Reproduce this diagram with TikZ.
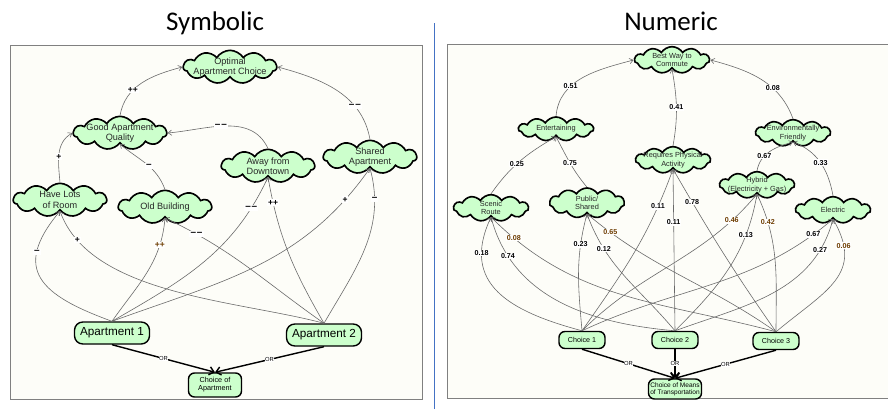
\documentclass[tikz,border=0pt]{standalone}
\usepackage{fontspec}
\setmainfont{Liberation Sans}
\newfontfamily\titlefont{Carlito}
\usetikzlibrary{arrows.meta,shapes.symbols,positioning}

\definecolor{nodegreen}{RGB}{204,255,204}
\definecolor{panelbg}{RGB}{253,253,248}
\definecolor{linkgray}{RGB}{105,105,105}
\definecolor{lblbrown}{RGB}{110,62,0}
\definecolor{divblue}{RGB}{68,114,196}

\begin{document}
\begin{tikzpicture}[x=0.3mm, y=0.3mm, >={Straight Barb[length=3pt,width=4.5pt]},
  goal/.style={cloud, cloud puffs=11, cloud puff arc=115, cloud ignores aspect, draw, line width=1.4pt, fill=nodegreen, inner sep=0pt},
  biggoal/.style={goal, minimum width=28mm, minimum height=10mm, label={[align=center, text=black!85, font=\fontsize{7.8}{8.8}\selectfont]center:#1}},
  smallgoal/.style={goal, minimum width=22.5mm, minimum height=8mm, label={[align=center, text=black!85, font=\fontsize{6.3}{7.2}\selectfont]center:#1}},
  choicebox/.style={rectangle, draw, line width=1.2pt, fill=nodegreen, align=center, inner sep=0pt},
  aptbox/.style={choicebox, rounded corners=2.5mm, minimum width=22.5mm, minimum height=6.6mm, font=\fontsize{10}{10}\selectfont},
  smallbox/.style={choicebox, rounded corners=1.8mm, minimum width=13.8mm, minimum height=5.1mm, font=\fontsize{6.1}{6.1}\selectfont},
  link/.style={->, draw=linkgray, line width=0.5pt},
  orlink/.style={-{Straight Barb[length=4pt,width=7pt]}, line width=1.2pt},
  lbl/.style={fill=white, inner sep=0.6pt, font=\bfseries\fontsize{6.1}{6.1}\selectfont},
  sign/.style={lbl, font=\bfseries\fontsize{7.3}{7.3}\selectfont},
  negsign/.style={lbl, inner sep=1pt, font=\bfseries\fontsize{8.5}{8.5}\selectfont},
  odd/.style={lbl, text=lblbrown},
  orlbl/.style={fill=white, inner sep=0.4pt, font=\fontsize{5}{5}\selectfont}
  ]
\useasboundingbox (0,0) rectangle (888,412);

% Panel A: Symbolic
\draw[gray, line width=0.8pt, fill=panelbg] (10,13) rectangle (422,367);
\node[font=\titlefont\fontsize{23}{23}\selectfont, anchor=base] (symtitle) at (215,381) {Symbolic};

\node[biggoal={Optimal\\Apartment Choice}] (opt) at (230,345) {};
\node[biggoal={Good Apartment\\Quality}] (gaq) at (120,279) {};
\node[biggoal={Away from\\Downtown}] (away) at (268,246) {};
\node[biggoal={Shared\\Apartment}] (shared) at (370,255) {};
\node[biggoal={Have Lots\\of Room}] (room) at (60,212) {};
\node[biggoal={Old Building}] (old) at (165,205) {};

\node[aptbox] (apt1) at (112,79) {Apartment 1};
\node[aptbox] (apt2) at (324,77) {Apartment 2};
\node[smallbox, minimum width=15.9mm, minimum height=7.2mm, font=\fontsize{6.2}{7}\selectfont] (choiceA) at (215,27) {Choice of\\Apartment};

\draw[link] (gaq.north) to[out=80,in=195] node[sign,pos=0.35]{++} (opt.west);
\draw[link] (shared.north) to[out=100,in=-15] node[negsign,pos=0.3]{--\hspace{0.7pt}--} (opt.east);
\draw[link] (away.north) to[out=115,in=5] node[negsign,pos=0.55]{--\hspace{0.7pt}--} (gaq.east);
\draw[link] (room.north) to[out=95,in=210] node[sign,pos=0.45]{+} (gaq.west);
\draw[link] (old.north) to[out=110,in=-40] node[negsign,pos=0.45]{--} (gaq.south);

\draw[link] (apt1.north) to[out=160,in=-130,looseness=1.6] node[negsign,pos=0.73]{--} (room.south);
\draw[link] (apt1.north) to[out=55,in=-95] node[sign,text=lblbrown,pos=0.78]{++} (old.south);
\draw[link] (apt1.north) to[out=30,in=-115] node[negsign,pos=0.85]{--\hspace{0.7pt}--} (away.south);
\draw[link] (apt1.north) to[out=20,in=-125] node[sign,pos=0.88]{+} (shared.south);
\draw[link] (apt2.north) to[out=165,in=-70,looseness=0.8] node[sign,pos=0.87]{+} (room.south);
\draw[link] (apt2.north) to[out=145,in=-25] node[negsign,pos=0.83]{--\hspace{0.7pt}--} (old.south);
\draw[link] (apt2.north) to[out=120,in=-80] node[sign,pos=0.85]{++} (away.south);
\draw[link] (apt2.north) to[out=60,in=-75] node[negsign,pos=0.82]{--} (shared.south);

\draw[orlink] (apt1.south) -- node[orlbl]{OR} (choiceA.north);
\draw[orlink] (apt2.south) -- node[orlbl]{OR} (choiceA.north);

% divider
\draw[divblue, line width=0.8pt] (434,3) -- (434,389);

% Panel B: Numeric
\draw[gray, line width=0.8pt, fill=panelbg] (447,14) rectangle (892,368);
\node[font=\titlefont\fontsize{23}{23}\selectfont, anchor=base] (numtitle) at (671,381) {Numeric};

\node[smallgoal={Best Way to\\Commute}] (best) at (672,352) {};
\node[smallgoal={Entertaining}, minimum height=7.2mm] (ent) at (556,283) {};
\node[smallgoal={Environmentally\\Friendly}] (env) at (793,279) {};
\node[smallgoal={Requires Physical\\Activity}] (req) at (673,252) {};
\node[smallgoal={Hybrid\\(Electricity + Gas)}] (hyb) at (757,227) {};
\node[smallgoal={Scenic\\Route}] (scenic) at (491,204) {};
\node[smallgoal={Public/\\Shared}, minimum height=9mm] (pub) at (587,209) {};
\node[smallgoal={Electric}] (elec) at (833,202) {};

\node[smallbox] (c1) at (582,72) {Choice 1};
\node[smallbox] (c2) at (675,72) {Choice 2};
\node[smallbox] (c3) at (776,71) {Choice 3};
\node[smallbox, minimum width=15.9mm, minimum height=6mm, font=\fontsize{5.6}{6.3}\selectfont] (means) at (675,23) {Choice of Means\\of Transportation};

\draw[link] (ent.north) to[out=85,in=195] node[lbl,pos=0.35]{0.51} (best.west);
\draw[link] (req.north) to[out=80,in=-80] node[lbl,pos=0.5]{0.41} (best.south);
\draw[link] (env.north) to[out=110,in=-15] node[lbl,pos=0.35]{0.08} (best.east);
\draw[link] (scenic.north) to[out=55,in=-150] node[lbl,pos=0.45]{0.25} (ent.south);
\draw[link] (pub.north) to[out=130,in=-62] node[lbl,pos=0.5]{0.75} (ent.south);
\draw[link] (hyb.north) to[out=80,in=-165] node[lbl,pos=0.35]{0.67} (env.south);
\draw[link] (elec.north) to[out=100,in=-20] node[lbl,pos=0.5]{0.33} (env.south);

\draw[link] (c1.north) to[out=55,in=-110] node[lbl,pos=0.8]{0.11} (req.south);
\draw[link] (c2.north) -- node[lbl,pos=0.67]{0.11} (req.south);
\draw[link] (c3.north) to[out=125,in=-60] node[lbl,pos=0.82]{0.78} (req.south);

\draw[link] (c1.north) to[out=165,in=-115,looseness=1.3] node[lbl,pos=0.8]{0.18} (scenic.south);
\draw[link] (c2.north) to[out=175,in=-75] node[lbl,pos=0.82]{0.74} (scenic.south);
\draw[link] (c3.north) to[out=165,in=-45] node[odd,pos=0.91]{0.08} (scenic.south);

\draw[link] (c1.north) to[out=95,in=-105] node[lbl,pos=0.75]{0.23} (pub.south);
\draw[link] (c2.north) to[out=130,in=-70] node[lbl,pos=0.75]{0.12} (pub.south);
\draw[link] (c3.north) to[out=145,in=-40] node[odd,pos=0.88]{0.65} (pub.south);

\draw[link] (c1.north) to[out=45,in=-130] node[odd,pos=0.85]{0.46} (hyb.south);
\draw[link] (c2.north) to[out=45,in=-100] node[lbl,pos=0.75]{0.13} (hyb.south);
\draw[link] (c3.north) to[out=90,in=-65] node[odd,pos=0.8]{0.42} (hyb.south);

\draw[link] (c1.north) to[out=25,in=-140] node[lbl,pos=0.92]{0.67} (elec.south);
\draw[link] (c2.north) to[out=20,in=-105] node[lbl,pos=0.84]{0.27} (elec.south);
\draw[link] (c3.north) to[out=40,in=-60,looseness=1.3] node[odd,pos=0.82]{0.06} (elec.south);

\draw[orlink] (c1.south) -- node[orlbl]{OR} (means.north);
\draw[orlink] (c2.south) -- node[orlbl]{OR} (means.north);
\draw[orlink] (c3.south) -- node[orlbl]{OR} (means.north);

\end{tikzpicture}
\end{document}
